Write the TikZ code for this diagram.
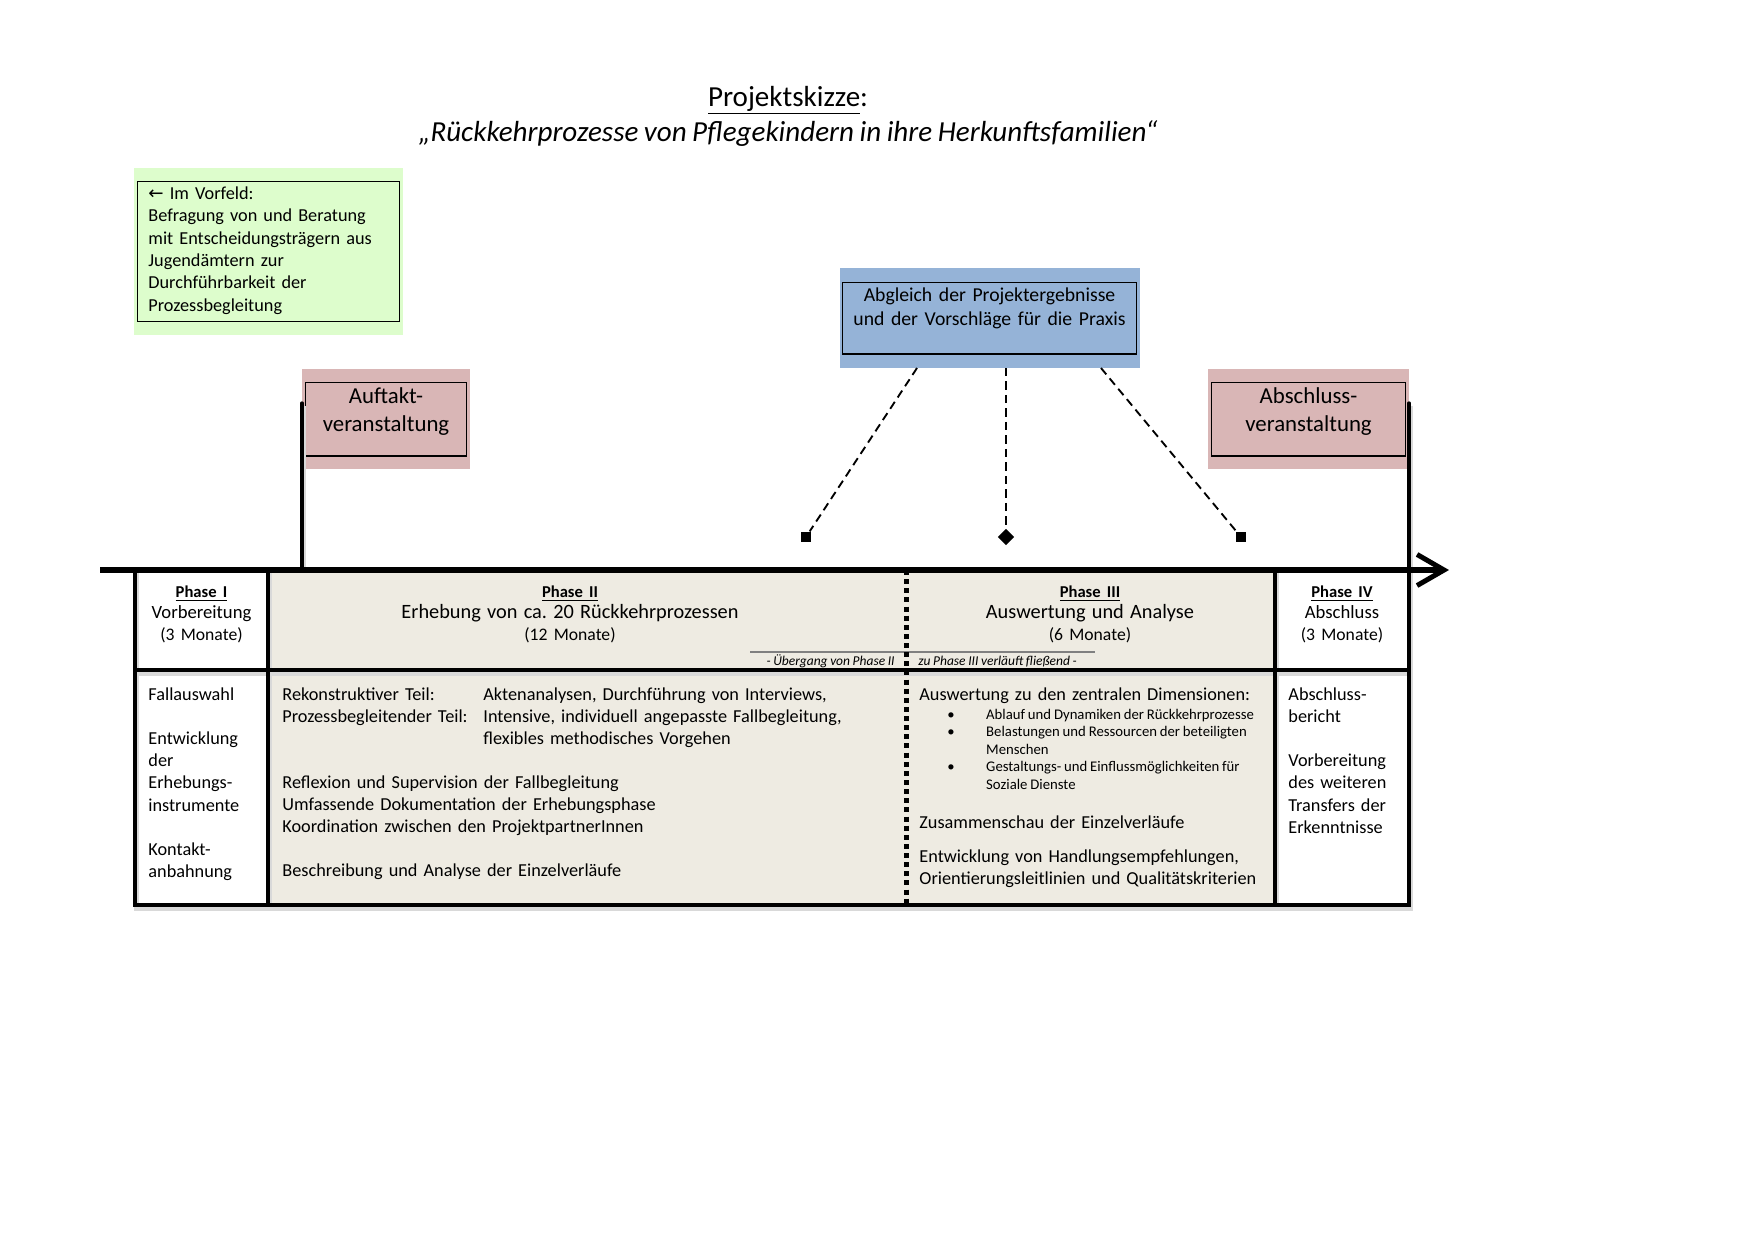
\documentclass[tikz,border=0pt]{standalone}
\usepackage{fontspec}
\setmainfont{Carlito}[WordSpace=0.85]
\newfontfamily\symfont{DejaVu Sans}
\usepackage{tikz}
\usetikzlibrary{shapes.geometric,arrows.meta,positioning,calc}
\usepackage{xcolor}

\definecolor{vorfeldgreen}{RGB}{221,253,204}
\definecolor{eventpink}{RGB}{217,182,182}
\definecolor{abgleichblue}{RGB}{149,179,215}
\definecolor{phasebeige}{RGB}{238,235,226}

\newcommand{\pix}[1]{#1*0.4803pt}
\newcommand{\phasetitle}[1]{{\fontsize{8}{10}\selectfont\bfseries\underline{#1}}}
\newcommand{\phasename}[1]{{\fontsize{9.8}{10.6}\selectfont #1}}
\newcommand{\months}[1]{{\fontsize{8.5}{10}\selectfont #1}}

\begin{document}
\begin{tikzpicture}[
    x=0.016943cm, y=-0.016943cm,
    every node/.style={inner sep=0pt},
    txt/.style={anchor=base west, align=left, text width=200pt, font=\fontsize{8.8}{10.66}\selectfont},
    head/.style={anchor=base, align=center, text width=\pix{360}, font=\fontsize{9}{10.5}\selectfont},
    eventtext/.style={anchor=base, align=center, text width=\pix{190}, font=\fontsize{11}{13.4}\selectfont},
    frame/.style={draw, line width=0.6pt},
    rule/.style={line width=1.6pt, line cap=round,
        preaction={draw=black!15, line width=2.6pt, transform canvas={xshift=0.8pt, yshift=-1.4pt}}},
    axis/.style={line width=3pt, -{Straight Barb[length=13pt, width=15pt, line width=2.4pt]}},
    link/.style={dash pattern=on 4pt off 2.5pt, line width=0.9pt},
    endmark/.style={fill, minimum size=5pt},
]
    \useasboundingbox (0,0) rectangle (1753,1240);

    % title
    \node[anchor=base, font=\fontsize{14}{17}\selectfont] (title) at (788,106) {\underline{Projektskizze}:};
    \node[anchor=base, font=\fontsize{14}{17}\selectfont\itshape] (subtitle) at (788,141)
        {„Rückkehrprozesse von Pflegekindern in ihre Herkunftsfamilien“};

    % Vorfeld
    \node[fill=vorfeldgreen, minimum width=\pix{269}, minimum height=\pix{167}] (vorfeld) at (268.5,251.5) {};
    \node[frame, minimum width=\pix{263}, minimum height=\pix{141}] (vorfeldframe) at (vorfeld) {};
    \node[txt, font=\fontsize{8.8}{10.76}\selectfont, text width=\pix{245}] (vorfeldtext) at (148,199.5)
        {{\symfont ←} Im Vorfeld:\\Befragung von und Beratung\\mit Entscheidungsträgern aus\\Jugendämtern zur\\Durchführbarkeit der\\Prozessbegleitung};

    % events
    \node[fill=eventpink, minimum width=\pix{168}, minimum height=\pix{100}] (auftakt) at (386,419) {};
    \node[frame, minimum width=\pix{162}, minimum height=\pix{74}] (auftaktframe) at (auftakt) {};
    \node[eventtext] (auftakttext) at (386,403.5) {Auftakt-\\veranstaltung};

    \node[fill=eventpink, minimum width=\pix{201}, minimum height=\pix{100}] (abschluss) at (1308.5,419) {};
    \node[frame, minimum width=\pix{195}, minimum height=\pix{74}] (abschlussframe) at (abschluss) {};
    \node[eventtext] (abschlusstext) at (1308.5,403.5) {Abschluss-\\veranstaltung};

    % Abgleich
    \node[fill=abgleichblue, minimum width=\pix{301}, minimum height=\pix{100}] (abgleich) at (989.5,318) {};
    \node[frame, minimum width=\pix{295}, minimum height=\pix{72}] (abgleichframe) at (abgleich) {};
    \node[anchor=base, align=center, text width=\pix{290}, font=\fontsize{9.5}{11.5}\selectfont] (abgleichtext) at (989.5,301.5)
        {Abgleich der Projektergebnisse\\und der Vorschläge für die Praxis};

    \coordinate (c1) at (917,368);
    \coordinate (c2) at (1006,368);
    \coordinate (c3) at (1101,368);
    \node[endmark] (m1) at (806,537) {};
    \node[endmark, shape=diamond, minimum size=8pt] (m2) at (1006,537) {};
    \node[endmark] (m3) at (1241,537) {};
    \draw[link] (c1) -- (m1);
    \draw[link] (c2) -- (m2);
    \draw[link] (c3) -- (m3);

    % table
    \fill[phasebeige] (268,570) rectangle (1275,905);
    \draw[gray, line width=0.5pt] (750,652) -- (1095,652);
    \draw[rule] (302,403) -- (302,570)
        (1409,403) -- (1409,905) -- (135,905) -- (135,570)
        (268,570) -- (268,905)
        (1275,570) -- (1275,905)
        (135,670) -- (1409,670);
    \draw[line width=2.4pt, dash pattern=on 2.4pt off 2pt] (906,570) -- (906,905);

    \coordinate (axstart) at (100,570);
    \coordinate (axend) at (1449,570);
    \draw[axis] (axstart) -- (axend);

    % phase heads
    \node[head] (ph1) at (201.5,597) {\phasetitle{Phase I}\\Vorbereitung\\\months{(3 Monate)}};
    \node[head] (ph2) at (570,597) {\phasetitle{Phase II}\\\phasename{Erhebung von ca.\ 20 Rückkehrprozessen}\\\months{(12 Monate)}};
    \node[head] (ph3) at (1090,597) {\phasetitle{Phase III}\\\phasename{Auswertung und Analyse}\\\months{(6 Monate)}};
    \node[head] (ph4) at (1342,597) {\phasetitle{Phase IV}\\Abschluss\\\months{(3 Monate)}};

    \node[anchor=base east, font=\fontsize{6.5}{8}\selectfont\itshape] (uebergang) at (895,665) {- Übergang von Phase II};
    \node[anchor=base west, font=\fontsize{6.5}{8}\selectfont\itshape] (fliessend) at (918,665) {zu Phase III verläuft fließend -};

    % phase bodies
    \node[txt] (body1) at (148,700.5)
        {Fallauswahl\\[10.66pt]Entwicklung\\der\\Erhebungs-\\instrumente\\[10.66pt]Kontakt-\\anbahnung};

    \node[txt] (teile) at (282,700.5) {Rekonstruktiver Teil:\\Prozessbegleitender Teil:};
    \node[txt] (methoden) at (483,700.5)
        {Aktenanalysen, Durchführung von Interviews,\\Intensive, individuell angepasste Fallbegleitung,\\flexibles methodisches Vorgehen};
    \node[txt] (body2) at (282,788.5)
        {Reflexion und Supervision der Fallbegleitung\\Umfassende Dokumentation der Erhebungsphase\\Koordination zwischen den ProjektpartnerInnen\\[10.66pt]Beschreibung und Analyse der Einzelverläufe};

    \node[txt] (dimensionen) at (919,700.5) {Auswertung zu den zentralen Dimensionen:};
    \node[anchor=base west, font=\fontsize{7.1}{8.4}\selectfont] (bullets) at (947,719.5)
        {\begin{tabular}[t]{@{}p{18.7pt}@{}l@{}}
            \textbullet & Ablauf und Dynamiken der Rückkehrprozesse\\
            \textbullet & Belastungen und Ressourcen der beteiligten\\
                        & Menschen\\
            \textbullet & Gestaltungs- und Einflussmöglichkeiten für\\
                        & Soziale Dienste
        \end{tabular}};
    \node[txt] (body3) at (919,828.5)
        {Zusammenschau der Einzelverläufe\\[5.5pt]Entwicklung von Handlungsempfehlungen,\\Orientierungsleitlinien und Qualitätskriterien};

    \node[txt] (body4) at (1288,700.5)
        {Abschluss-\\bericht\\[10.66pt]Vorbereitung\\des weiteren\\Transfers der\\Erkenntnisse};
\end{tikzpicture}
\end{document}
